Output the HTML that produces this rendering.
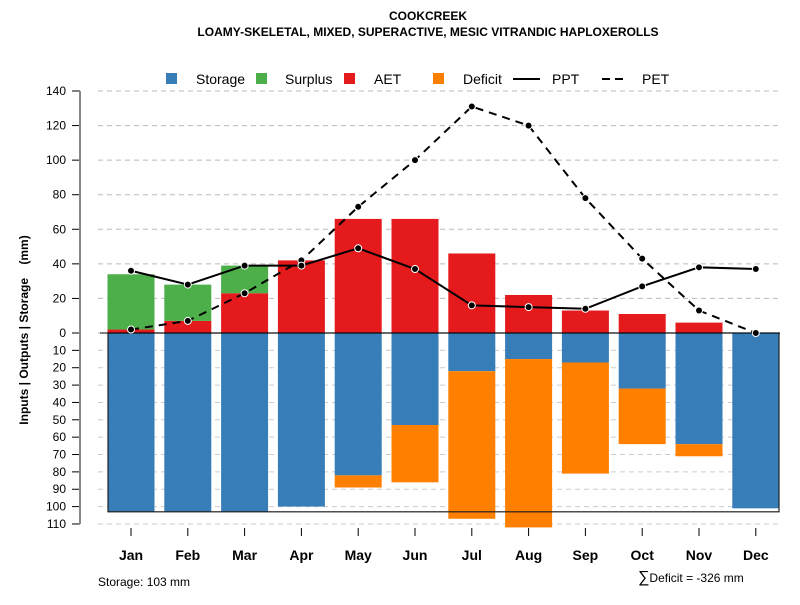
<!DOCTYPE html>
<html><head><meta charset="utf-8"><style>
body{margin:0;background:#fff;font-family:"Liberation Sans",sans-serif}
svg text{font-family:"Liberation Sans",sans-serif}
</style></head><body>
<svg id="c" width="800" height="600" viewBox="0 0 800 600">
<text x="428" y="20" text-anchor="middle" font-size="12" font-weight="bold">COOKCREEK</text>
<text x="428" y="36" text-anchor="middle" font-size="12" font-weight="bold">LOAMY-SKELETAL, MIXED, SUPERACTIVE, MESIC VITRANDIC HAPLOXEROLLS</text>
<g id="grid"></g><g id="bars"></g><g id="lines"></g><g id="axes"></g>
<g font-size="14">
<rect x="166" y="73" width="11" height="11" fill="#377eb8"/><text x="196" y="84">Storage</text>
<rect x="256" y="73" width="11" height="11" fill="#4daf4a"/><text x="285" y="84">Surplus</text>
<rect x="344" y="73" width="11" height="11" fill="#e41a1c"/><text x="374" y="84">AET</text>
<rect x="433" y="73" width="11" height="11" fill="#ff7f00"/><text x="463" y="84">Deficit</text>
<line x1="513" y1="79" x2="540" y2="79" stroke="#000" stroke-width="2"/><text x="552" y="84">PPT</text>
<line x1="602" y1="79" x2="628" y2="79" stroke="#000" stroke-width="2" stroke-dasharray="8,5"/><text x="642" y="84">PET</text>
</g>
<text transform="translate(28,330) rotate(-90)" text-anchor="middle" font-size="12" font-weight="bold" style="white-space:pre" xml:space="preserve">Inputs | Outputs | Storage    (mm)</text>
<text x="98" y="586" font-size="12">Storage: 103 mm</text>
<text x="638" y="582" font-size="12"><tspan font-size="16">∑</tspan>Deficit = -326 mm</text>
</svg>
<script>
const months=["Jan","Feb","Mar","Apr","May","Jun","Jul","Aug","Sep","Oct","Nov","Dec"];
const storage=[103,103,103,100,82,53,22,15,17,32,64,101];
const deficit=[0,0,0,0,7,33,85,97,64,32,7,0];
const aet=[2,7,23,42,66,66,46,22,13,11,6,0];
const surplus=[32,21,16,0,0,0,0,0,0,0,0,0];
const ppt=[36,28,39,39,49,37,16,15,14,27,38,37];
const pet=[2,7,23,42,73,100,131,120,78,43,13,0];
const upTicks=[0,20,40,60,80,100,120,140];
const downTicks=[10,20,30,40,50,60,70,80,90,100,110];
const maxStorage=103;
const NS="http://www.w3.org/2000/svg";
const Y0=333,SU=1.7286,SD=1.736;
const yUp=v=>Y0-v*SU, yDn=v=>Y0+v*SD;
const xC=i=>131+i*56.8, BW=47;
function mk(t,a,p){const e=document.createElementNS(NS,t);for(const k in a)e.setAttribute(k,a[k]);document.getElementById(p).appendChild(e);return e;}
upTicks.forEach(v=>{const l=mk('line',{x1:98,x2:780,y1:yUp(v),y2:yUp(v),stroke:'#bbb','stroke-dasharray':'5,4'},'grid');


const t=mk('line',{x1:72,x2:80,y1:yUp(v),y2:yUp(v),stroke:'#000'},'axes');


const tx=mk('text',{x:66,y:yUp(v)+4,'text-anchor':'end','font-size':12},'axes');tx.textContent=v;

});
downTicks.forEach(v=>{const l=mk('line',{x1:98,x2:780,y1:yDn(v),y2:yDn(v),stroke:'#ccc','stroke-dasharray':'5,4'},'grid');


const t=mk('line',{x1:72,x2:80,y1:yDn(v),y2:yDn(v),stroke:'#000'},'axes');


const tx=mk('text',{x:66,y:yDn(v)+4,'text-anchor':'end','font-size':12},'axes');tx.textContent=v;

});
const ax=mk('line',{x1:80,x2:80,y1:yUp(140),y2:yDn(110),stroke:'#888','stroke-width':2},'axes');


months.forEach((m,i)=>{const x=xC(i)-BW/2;
let r=mk('rect',{x:x,y:Y0,width:BW,height:storage[i]*SD,fill:'#377eb8'},'bars');


if(deficit[i]>0){r=mk('rect',{x:x,y:yDn(storage[i]),width:BW,height:deficit[i]*SD,fill:'#ff7f00'},'bars');

}
if(aet[i]>0){r=mk('rect',{x:x,y:yUp(aet[i]),width:BW,height:aet[i]*SU,fill:'#e41a1c'},'bars');

}
if(surplus[i]>0){r=mk('rect',{x:x,y:yUp(aet[i]+surplus[i]),width:BW,height:surplus[i]*SU,fill:'#4daf4a'},'bars');

}
const t=mk('line',{x1:xC(i),x2:xC(i),y1:528,y2:536,stroke:'#000'},'axes');


const tx=mk('text',{x:xC(i),y:560,'text-anchor':'middle','font-size':14,'font-weight':'bold'},'axes');tx.textContent=m;

});
const bx=mk('rect',{x:108,y:Y0,width:671,height:maxStorage*SD,fill:'none',stroke:'#222','stroke-width':1.2},'bars');


const zl=mk('line',{x1:100,x2:780,y1:Y0,y2:Y0,stroke:'#000'},'bars');


function series(arr,name,dash,ring){
const pl=mk('polyline',{points:arr.map((v,i)=>xC(i)+','+yUp(v)).join(' '),fill:'none',stroke:'#000','stroke-width':2,'stroke-dasharray':dash},'lines');


arr.forEach((v,i)=>{const c=mk('circle',{cx:xC(i),cy:yUp(v),r:3.5,fill:'#000',stroke:'#fff','stroke-width':ring},'lines');

});}
series(pet,'pet','8,6',1);
series(ppt,'ppt','none',1);
</script>
</body></html>
